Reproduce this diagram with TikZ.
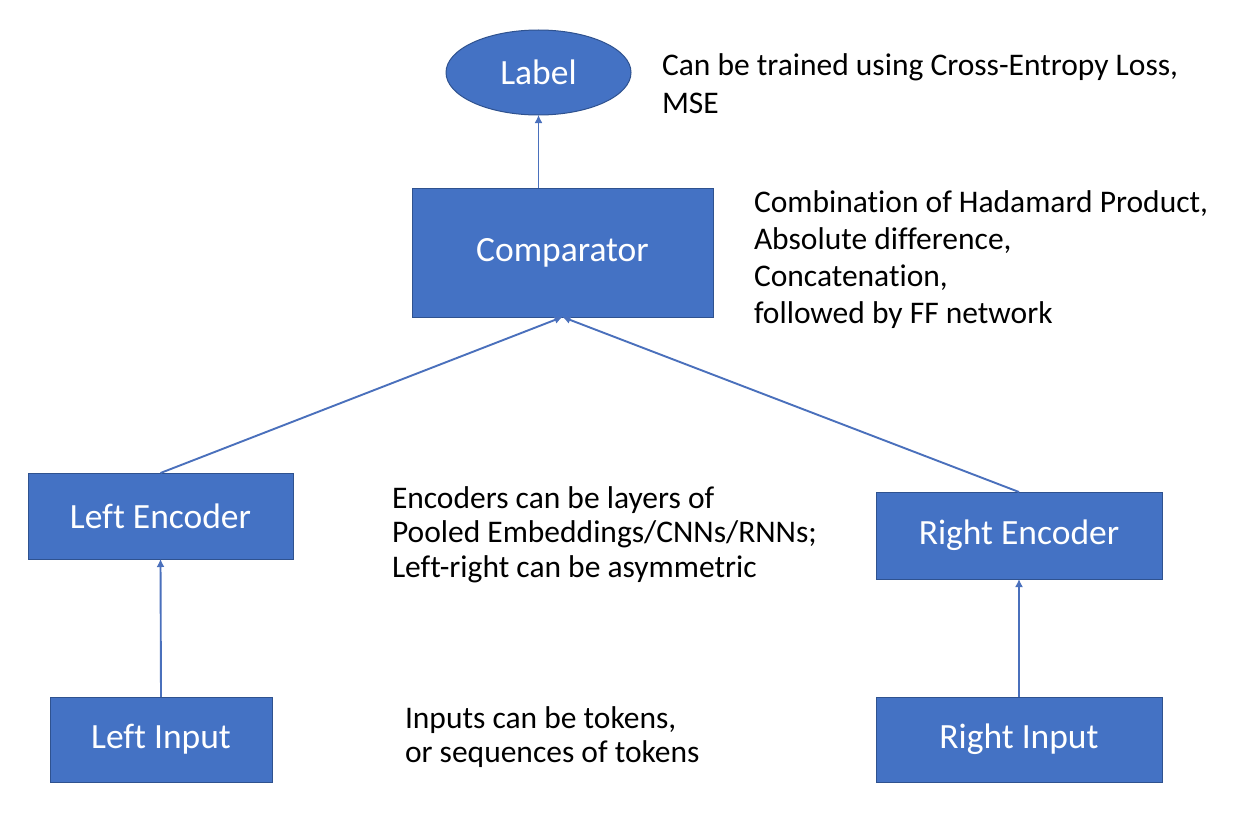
\documentclass[tikz,border=0pt]{standalone}
\usepackage{fontspec}
\setmainfont{Carlito}[Ligatures=NoCommon]
\usetikzlibrary{arrows.meta,shapes.geometric}
\definecolor{boxblue}{HTML}{4472C4}
\definecolor{boxedge}{HTML}{2F528F}
\definecolor{lineblue}{HTML}{4A70BC}
\newcommand\annblock[2]{\fontsize{31.5}{#1}\selectfont\begin{tabular}[t]{@{}l@{}}#2\end{tabular}}
\tikzset{
  bluebox/.style={rectangle, fill=boxblue, draw=boxedge, line width=1pt, inner sep=0pt, outer sep=0pt,
    text=white, font=\fontsize{35.5}{40}\selectfont},
  blueoval/.style={ellipse, fill=boxblue, draw=boxedge, line width=1pt, inner sep=0pt, outer sep=0pt,
    text=white, font=\fontsize{35.5}{40}\selectfont},
  arr/.style={draw=lineblue, line width=1.9pt, -{Latex[length=8pt,width=8pt]}},
  note/.style={anchor=base west, inner sep=0pt, outer sep=0pt, text=black}
}
\begin{document}
\begin{tikzpicture}[x=1pt,y=-1pt]
\useasboundingbox[fill=white] (0,0) rectangle (1236,816);
% nodes
\node[blueoval, minimum width=185pt, minimum height=85pt] (lbl) at (538.5,72.5) {Label};
\node[bluebox, minimum width=301pt, minimum height=129pt] (cmp) at (562.5,252.5) {Comparator};
\node[bluebox, minimum width=265pt, minimum height=86pt] (lenc) at (160.5,516) {Left Encoder};
\node[bluebox, minimum width=222pt, minimum height=85pt] (linp) at (161,739.5) {Left Input};
\node[bluebox, minimum width=286pt, minimum height=87pt] (renc) at (1019,535.5) {Right Encoder};
\node[bluebox, minimum width=286pt, minimum height=85pt] (rinp) at (1019,739.5) {Right Input};
% annotations
\node[note] (t1) at (662,75) {\annblock{38}{Can be trained using Cross-Entropy Loss,\\MSE}};
\node[note] (t2) at (754,212) {\annblock{37}{Combination of Hadamard Product,\\Absolute difference,\\Concatenation,\\followed by FF network}};
\node[note] (t3) at (392,508) {\annblock{34.5}{Encoders can be layers of\\Pooled Embeddings/CNNs/RNNs;\\Left-right can be asymmetric}};
\node[note] (t4) at (405,728) {\annblock{34}{Inputs can be tokens,\\or sequences of tokens}};
% connectors
\draw[arr] (linp.north) -- (lenc.south);
\draw[arr] (rinp.north) -- (renc.south);
\draw[arr] (lenc.north) -- (cmp.south);
\draw[arr] (renc.north) -- (cmp.south);
\draw[arr] (lbl.south |- cmp.north) -- (lbl.south);
\end{tikzpicture}
\end{document}
